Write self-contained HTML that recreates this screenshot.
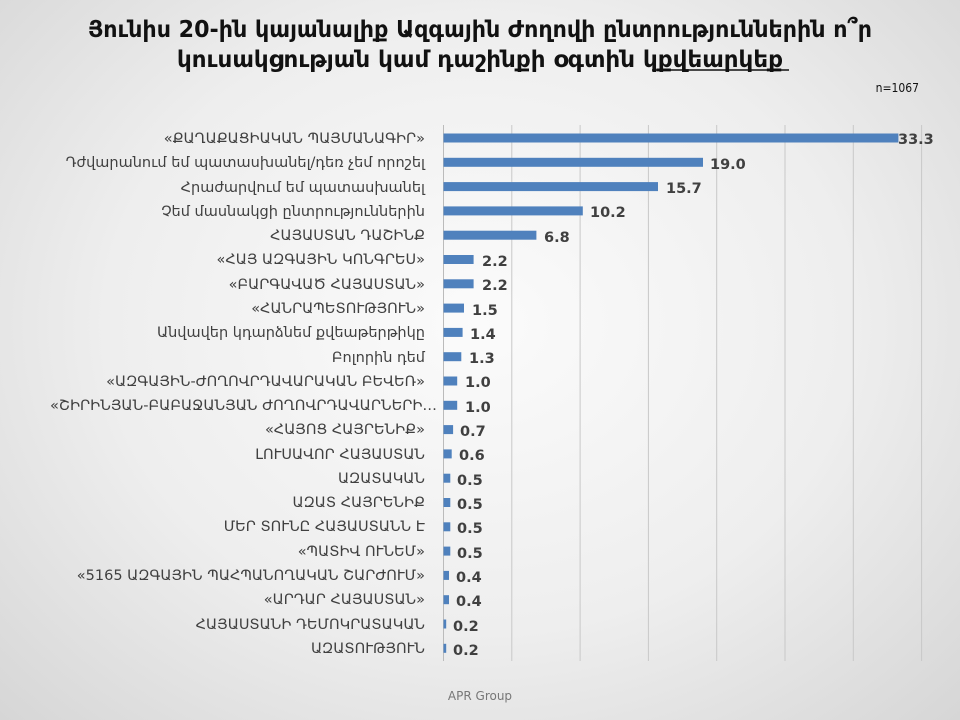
<!DOCTYPE html>
<html><head><meta charset="utf-8"><style>
html,body{margin:0;padding:0;}
body{width:960px;height:720px;overflow:hidden;background:radial-gradient(ellipse at 50% 45%,#fbfbfb 0%,#eeeeee 55%,#d6d6d6 100%);}
svg{position:absolute;left:0;top:0;}
</style></head><body>
<svg width="960" height="720" xmlns="http://www.w3.org/2000/svg">
<g font-family="'DejaVu Sans Condensed','DejaVu Sans',sans-serif" font-weight="bold" font-size="23" fill="#111" text-anchor="middle">
<text x="480" y="37" textLength="784" lengthAdjust="spacingAndGlyphs">Յունիս 20-ին կայանալիք Ազգային Ժողովի ընտրություններին ո՞ր</text>
<text x="480" y="67" textLength="606" lengthAdjust="spacingAndGlyphs">կուսակցության կամ դաշինքի օգտին կքվեարկեք</text>
</g>
<line x1="652" y1="70" x2="789" y2="70" stroke="#111" stroke-width="1.5"/>
<text x="919" y="92" font-family="'DejaVu Sans Condensed','DejaVu Sans',sans-serif" font-size="12" fill="#111" text-anchor="end">n=1067</text>
<g stroke="#c8c8c8" stroke-width="1">
<line x1="511.8" y1="125" x2="511.8" y2="661"/><line x1="580.1" y1="125" x2="580.1" y2="661"/><line x1="648.4" y1="125" x2="648.4" y2="661"/><line x1="716.7" y1="125" x2="716.7" y2="661"/><line x1="785" y1="125" x2="785" y2="661"/><line x1="853.3" y1="125" x2="853.3" y2="661"/><line x1="921.6" y1="125" x2="921.6" y2="661"/>
</g>
<line x1="443.5" y1="125" x2="443.5" y2="661" stroke="#bbbbbb"/>
<text x="480" y="700" font-family="'DejaVu Sans','Liberation Sans',sans-serif" font-size="12" fill="#777" text-anchor="middle">APR Group</text>
<g font-family="'DejaVu Sans',sans-serif" font-size="14.5" fill="#404040" text-anchor="end">
<text x="425" y="143">«ՔԱՂԱՔԱՑԻԱԿԱՆ ՊԱՅՄԱՆԱԳԻՐ»</text>
<text x="425" y="167">Դժվարանում եմ պատասխանել/դեռ չեմ որոշել</text>
<text x="425" y="192">Հրաժարվում եմ պատասխանել</text>
<text x="425" y="216">Չեմ մասնակցի ընտրություններին</text>
<text x="425" y="240">ՀԱՅԱՍՏԱՆ ԴԱՇԻՆՔ</text>
<text x="425" y="264">«ՀԱՅ ԱԶԳԱՅԻՆ ԿՈՆԳՐԵՍ»</text>
<text x="425" y="289">«ԲԱՐԳԱՎԱԾ ՀԱՅԱՍՏԱՆ»</text>
<text x="425" y="313">«ՀԱՆՐԱՊԵՏՈՒԹՅՈՒՆ»</text>
<text x="425" y="337">Անվավեր կդարձնեմ քվեաթերթիկը</text>
<text x="425" y="362">Բոլորին դեմ</text>
<text x="425" y="386">«ԱԶԳԱՅԻՆ-ԺՈՂՈՎՐԴԱՎԱՐԱԿԱՆ ԲԵՎԵՌ»</text>
<text x="437" y="410" textLength="387" lengthAdjust="spacingAndGlyphs" text-anchor="start" transform="translate(-387,0)">«ՇԻՐԻՆՅԱՆ-ԲԱԲԱՋԱՆՅԱՆ ԺՈՂՈՎՐԴԱՎԱՐՆԵՐԻ…</text>
<text x="425" y="434">«ՀԱՅՈՑ ՀԱՅՐԵՆԻՔ»</text>
<text x="425" y="459">ԼՈՒՍԱՎՈՐ ՀԱՅԱՍՏԱՆ</text>
<text x="425" y="483">ԱԶԱՏԱԿԱՆ</text>
<text x="425" y="507">ԱԶԱՏ ՀԱՅՐԵՆԻՔ</text>
<text x="425" y="531">ՄԵՐ ՏՈՒՆԸ ՀԱՅԱՍՏԱՆՆ Է</text>
<text x="425" y="556">«ՊԱՏԻՎ ՈՒՆԵՄ»</text>
<text x="425" y="580">«5165 ԱԶԳԱՅԻՆ ՊԱՀՊԱՆՈՂԱԿԱՆ ՇԱՐԺՈՒՄ»</text>
<text x="425" y="604">«ԱՐԴԱՐ ՀԱՅԱՍՏԱՆ»</text>
<text x="425" y="629">ՀԱՅԱՍՏԱՆԻ ԴԵՄՈԿՐԱՏԱԿԱՆ</text>
<text x="425" y="653">ԱԶԱՏՈՒԹՅՈՒՆ</text>
</g>
<g fill="#4f81bd">
<rect x="443.5" y="133.5" width="454.9" height="9"/>
<rect x="443.5" y="157.8" width="259.5" height="9"/>
<rect x="443.5" y="182.1" width="214.5" height="9"/>
<rect x="443.5" y="206.4" width="139.3" height="9"/>
<rect x="443.5" y="230.7" width="92.9" height="9"/>
<rect x="443.5" y="255" width="30.1" height="9"/>
<rect x="443.5" y="279.3" width="30.1" height="9"/>
<rect x="443.5" y="303.6" width="20.5" height="9"/>
<rect x="443.5" y="327.9" width="19.1" height="9"/>
<rect x="443.5" y="352.2" width="17.8" height="9"/>
<rect x="443.5" y="376.5" width="13.7" height="9"/>
<rect x="443.5" y="400.8" width="13.7" height="9"/>
<rect x="443.5" y="425.1" width="9.6" height="9"/>
<rect x="443.5" y="449.4" width="8.2" height="9"/>
<rect x="443.5" y="473.7" width="6.8" height="9"/>
<rect x="443.5" y="498" width="6.8" height="9"/>
<rect x="443.5" y="522.3" width="6.8" height="9"/>
<rect x="443.5" y="546.6" width="6.8" height="9"/>
<rect x="443.5" y="570.9" width="5.5" height="9"/>
<rect x="443.5" y="595.2" width="5.5" height="9"/>
<rect x="443.5" y="619.5" width="2.7" height="9"/>
<rect x="443.5" y="643.8" width="2.7" height="9"/>
</g>
<g font-family="'DejaVu Sans','Liberation Sans',sans-serif" font-weight="bold" font-size="14.5" fill="#404040">
<text x="898" y="144">33.3</text>
<text x="710" y="169">19.0</text>
<text x="666" y="193">15.7</text>
<text x="590" y="217">10.2</text>
<text x="544" y="242">6.8</text>
<text x="482" y="266">2.2</text>
<text x="482" y="290">2.2</text>
<text x="472" y="315">1.5</text>
<text x="470" y="339">1.4</text>
<text x="469" y="363">1.3</text>
<text x="465" y="387">1.0</text>
<text x="465" y="412">1.0</text>
<text x="460" y="436">0.7</text>
<text x="459" y="460">0.6</text>
<text x="457" y="485">0.5</text>
<text x="457" y="509">0.5</text>
<text x="457" y="533">0.5</text>
<text x="457" y="558">0.5</text>
<text x="456" y="582">0.4</text>
<text x="456" y="606">0.4</text>
<text x="453" y="631">0.2</text>
<text x="453" y="655">0.2</text>
</g>
</svg>
</body></html>
